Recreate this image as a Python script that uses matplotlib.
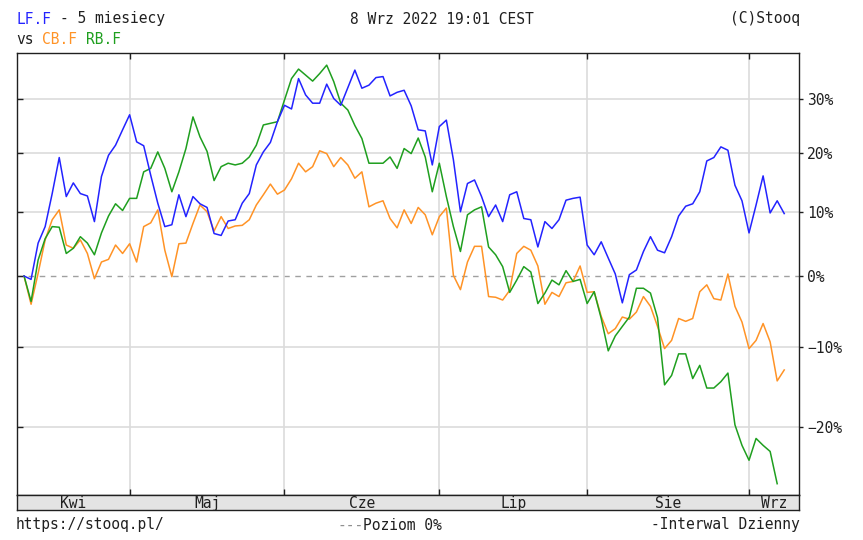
import matplotlib
matplotlib.use('Agg')
import matplotlib.pyplot as plt
from matplotlib.ticker import FixedLocator, NullLocator, NullFormatter
import numpy as np

# daily % change vs first day (5 months to 8 Sep 2022)
lf_f = [0.0, -0.5, 5.0, 7.6, 13.0, 19.2, 12.5, 14.8, 13.0, 12.6,
        8.4, 15.9, 19.6, 21.4, 24.2, 27.0, 22.0, 21.3, 16.1, 11.4,
        7.6, 7.9, 12.8, 9.2, 12.5, 11.3, 10.7, 6.5, 6.2, 8.5,
        8.7, 11.4, 13.0, 17.9, 20.2, 21.9, 25.7, 28.8, 28.1, 34.0,
        30.8, 29.2, 29.2, 32.9, 30.1, 28.8, 32.2, 35.7, 32.1, 32.7,
        34.2, 34.4, 30.6, 31.3, 31.7, 28.7, 24.2, 24.0, 17.9, 24.8,
        26.0, 18.8, 10.0, 14.7, 15.3, 12.5, 9.2, 11.1, 8.4, 12.8,
        13.3, 8.9, 8.7, 4.4, 8.4, 7.3, 8.7, 11.9, 12.2, 12.4,
        4.7, 3.2, 5.2, 2.7, 0.3, -3.9, 0.2, 0.9, 3.7, 6.0,
        3.9, 3.5, 6.0, 9.3, 10.9, 11.3, 13.3, 18.6, 19.2, 21.1,
        20.5, 14.4, 11.8, 6.6, 11.1, 16.0, 9.8, 11.8, 9.7]

cb_f = [0.0, -4.1, 0.4, 5.5, 8.7, 10.3, 4.7, 4.2, 5.5, 3.4,
        -0.4, 2.1, 2.5, 4.7, 3.4, 4.9, 2.1, 7.6, 8.2, 10.3,
        3.9, -0.1, 4.9, 5.0, 8.1, 11.1, 10.0, 6.9, 9.2, 7.3,
        7.7, 7.8, 8.7, 11.1, 12.8, 14.6, 12.9, 13.6, 15.5, 18.2,
        16.7, 17.6, 20.4, 19.9, 17.6, 19.2, 17.9, 15.6, 16.7, 10.8,
        11.4, 11.8, 8.9, 7.4, 10.3, 8.1, 10.7, 9.5, 6.3, 9.2,
        10.6, 0.1, -2.0, 2.1, 4.5, 4.5, -3.0, -3.1, -3.5, -2.1,
        3.4, 4.5, 3.9, 1.5, -4.1, -2.4, -3.0, -1.0, -0.8, 1.5,
        -2.4, -2.3, -5.8, -8.2, -7.5, -5.9, -6.2, -5.2, -3.0, -4.4,
        -7.2, -10.2, -9.1, -6.1, -6.5, -6.1, -2.3, -1.3, -3.3, -3.5,
        0.3, -4.4, -6.6, -10.2, -9.1, -6.8, -9.3, -14.4, -13.0]

rb_f = [0.0, -3.7, 2.4, 5.7, 7.6, 7.5, 3.4, 4.2, 6.0, 5.0,
        3.2, 6.6, 9.3, 11.3, 10.2, 12.2, 12.2, 16.7, 17.3, 20.2,
        17.3, 13.3, 16.7, 20.8, 26.6, 22.9, 20.3, 15.2, 17.6, 18.2,
        17.9, 18.2, 19.3, 21.4, 25.1, 25.4, 25.7, 29.8, 34.0, 35.9,
        34.7, 33.5, 35.0, 36.7, 33.4, 29.2, 27.9, 25.0, 22.6, 18.2,
        18.2, 18.2, 19.3, 17.3, 20.8, 19.9, 22.7, 19.3, 13.3, 18.2,
        12.5, 7.6, 3.7, 9.5, 10.3, 10.8, 4.4, 3.2, 1.4, -2.4,
        -0.6, 1.4, 0.6, -4.0, -2.5, -0.6, -1.3, 0.8, -0.8, -0.5,
        -4.0, -2.3, -6.1, -10.5, -8.5, -7.2, -5.9, -1.8, -1.8, -2.5,
        -6.0, -14.9, -13.7, -10.9, -10.9, -14.1, -12.4, -15.3, -15.3, -14.5,
        -13.4, -19.8, -22.2, -23.9, -21.4, -22.2, -22.9, -26.5]

month_names = ['Kwi', 'Maj', 'Cze', 'Lip', 'Sie', 'Wrz']
month_starts = [15, 37, 59, 80, 103]   # index of first session in month
pct_ticks = [30, 20, 10, 0, -10, -20]

BLUE = '#2323ff'
ORANGE = '#ff9326'
GREEN = '#1f9f1f'
INK = '#202020'
FONT = 'DejaVu Sans Mono'
FS = 10.5
CW = 0.602 * FS * 100 / 72   # monospace advance in pixels

plt.rcParams['font.family'] = FONT

W, H = 863, 540
fig = plt.figure(figsize=(W / 100, H / 100), dpi=100)


def fx(px):
    return px / W


def fy(py):
    return 1 - py / H


L, R, T, B = 17, 799, 53, 495
ax = fig.add_axes([fx(L), fy(B), (R - L) / W, (B - T) / H])

x_lf = np.arange(len(lf_f))
x_cb = np.arange(len(cb_f))
x_rb = np.arange(len(rb_f))
to_ratio = lambda v: 1 + np.array(v) / 100.0

ax.set_yscale('log')
ax.set_xlim(-1.0, 110.1)
ax.set_ylim(0.7228, 1.3918)

# grid
for t in pct_ticks:
    if t != 0:
        ax.axhline(1 + t / 100, color='#dcdcdc', lw=1.2, zorder=1)
ax.axhline(1.0, color='#a0a0a0', lw=1.0, ls=(0, (4, 4)), zorder=1)
for m in month_starts:
    ax.axvline(m, color='#dcdcdc', lw=1.2, zorder=1)

ax.plot(x_lf, to_ratio(lf_f), color=BLUE, lw=1.1, zorder=4)
ax.plot(x_cb, to_ratio(cb_f), color=ORANGE, lw=1.1, zorder=3)
ax.plot(x_rb, to_ratio(rb_f), color=GREEN, lw=1.1, zorder=3)

tick_vals = [1 + t / 100 for t in pct_ticks]
ax.yaxis.set_major_locator(FixedLocator(tick_vals))
ax.yaxis.set_minor_locator(NullLocator())
ax.yaxis.set_major_formatter(NullFormatter())
ax.yaxis.set_minor_formatter(NullFormatter())
ax.xaxis.set_major_locator(FixedLocator(month_starts))
ax.xaxis.set_major_formatter(NullFormatter())
ax.tick_params(axis='both', direction='in', length=4, width=1, color=INK,
               left=True, right=False, top=True, bottom=True,
               labelleft=False, labelbottom=False)
for s in ax.spines.values():
    s.set_color(INK)
    s.set_linewidth(1)

# right-hand percent axis
ax2 = ax.twinx()
ax2.set_yscale('log')
ax2.set_ylim(ax.get_ylim())
ax2.yaxis.set_major_locator(FixedLocator(tick_vals))
ax2.yaxis.set_minor_locator(NullLocator())
ax2.yaxis.set_minor_formatter(NullFormatter())
ax2.set_yticklabels([f'{t}%'.replace('-', '\u2212') for t in pct_ticks])
ax2.tick_params(axis='y', direction='out', length=3, width=1, color=INK,
                labelsize=FS, labelcolor=INK, pad=3)
for s in ax2.spines.values():
    s.set_visible(False)

# month strip
axm = fig.add_axes([fx(L), fy(510), (R - L) / W, 15 / H])
axm.set_facecolor('#e4e4e4')
axm.set_xlim(ax.get_xlim())
axm.set_ylim(0, 1)
axm.set_xticks([])
axm.set_yticks([])
for s in axm.spines.values():
    s.set_color(INK)
    s.set_linewidth(1)
edges = [ax.get_xlim()[0]] + month_starts + [ax.get_xlim()[1]]
for i, name in enumerate(month_names):
    axm.text((edges[i] + edges[i + 1]) / 2, 0.45, name, ha='center', va='center',
             fontsize=FS, color=INK)


def put(col, row_y, s, color, **kw):
    # place text at a monospace column so coloured pieces line up
    fig.text(fx(16 + col * CW), row_y, s, color=color, fontsize=FS, va='center', **kw)


# header
y1, y2 = fy(19), fy(40)
put(0, y1, 'LF.F', BLUE)
put(5, y1, '- 5 miesiecy', INK)
fig.text(fx(442), y1, '8 Wrz 2022 19:01 CEST', color=INK, fontsize=FS,
         va='center', ha='center')
fig.text(fx(800), y1, '(C)Stooq', color=INK, fontsize=FS, va='center', ha='right')
put(0, y2, 'vs', INK)
put(3, y2, 'CB.F', ORANGE)
put(8, y2, 'RB.F', GREEN)

# footer
yf = fy(525)
put(0, yf, 'https://stooq.pl/', INK)
fig.text(fx(337), yf, '---', color='#909090', fontsize=FS, va='center')
fig.text(fx(337 + 3 * CW), yf, 'Poziom 0%', color=INK, fontsize=FS, va='center')
fig.text(fx(800), yf, '-Interwal Dzienny', color=INK, fontsize=FS,
         va='center', ha='right')

fig.savefig('out.png', dpi=100)
